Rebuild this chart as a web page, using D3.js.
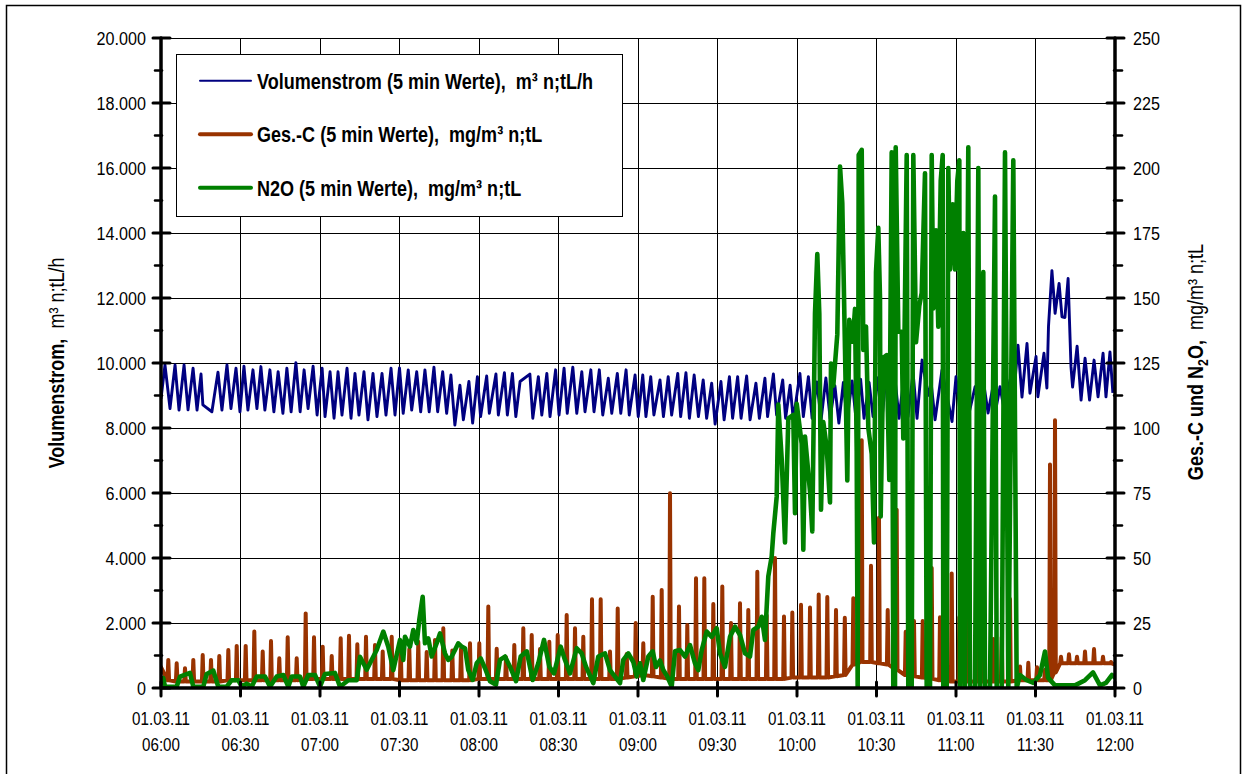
<!DOCTYPE html>
<html><head><meta charset="utf-8">
<script src="https://cdn.jsdelivr.net/npm/d3@7"></script>
<style>
body{margin:0;background:#fff;}
svg{display:block;}
text{font-family:"Liberation Sans",Arial,sans-serif;fill:#000;white-space:pre;}
</style></head><body>
<svg id="c" width="1246" height="774"></svg>
<script>
// ---- data: minutes after 01.03.11 06:00 ----
const volumenstrom = [[0,8900],[1.5,9940],[3.4,8600],[5.3,9940],[6.8,8550],[8.7,9940],[10.2,8560],[12.1,9840],[13.6,8550],[15.1,9660],[15.8,8710],[19.2,8500],[21.5,9720],[23.0,8550],[24.9,9940],[26.4,8600],[28.3,9840],[29.8,8500],[31.3,9900],[32.8,8550],[34.7,9790],[36.2,8600],[37.7,9890],[39.2,8550],[41.1,9790],[42.6,8500],[44.2,9730],[46.0,8450],[47.5,9840],[49.1,8500],[50.9,10010],[52.5,8500],[54.0,9790],[55.5,8600],[57.4,9900],[58.9,8400],[60.8,9840],[61.9,8350],[63.8,9730],[65.3,8300],[66.8,9730],[68.3,8400],[70.2,9840],[71.7,8300],[73.2,9680],[74.7,8400],[76.6,9730],[78.1,8250],[80.0,9680],[81.5,8350],[83.4,9680],[84.9,8400],[86.8,9840],[88.3,8400],[90.0,9850],[91.4,8450],[93.3,9785],[94.6,8550],[96.5,9730],[98.0,8500],[99.6,9785],[101.2,8500],[103.0,9870],[104.4,8500],[106.3,9730],[107.8,8450],[109.4,9630],[110.9,8090],[112.8,9320],[114.1,8250],[116.2,9430],[117.6,8150],[119.4,9580],[120.6,8350],[122.9,9600],[123.9,8450],[126.4,9660],[127.3,8400],[129.6,9700],[130.7,8400],[132.6,9680],[133.9,8350],[135.5,9430],[139.2,9660],[140.3,8300],[142.4,9580],[143.7,8400],[145.6,9680],[146.8,8350],[148.9,9790],[150.2,8400],[152.1,9840],[153.3,8450],[155.4,9870],[156.9,8450],[158.8,9730],[160.0,8500],[162.2,9790],[163.4,8500],[165.4,9790],[166.7,8400],[168.8,9530],[170.1,8450],[172.2,9680],[173.5,8450],[175.5,9790],[176.7,8400],[178.9,9630],[180.1,8350],[181.8,9630],[183.0,8350],[184.8,9580],[186.0,8400],[188.3,9480],[189.6,8350],[191.4,9580],[192.7,8400],[195.0,9680],[196.1,8350],[198.1,9700],[199.4,8300],[201.2,9630],[202.8,8350],[204.6,9480],[205.9,8300],[207.8,9380],[209.1,8120],[211.3,9430],[212.5,8250],[214.5,9580],[215.7,8300],[217.6,9580],[218.9,8300],[221.0,9600],[222.3,8250],[224.5,9380],[225.8,8300],[227.9,9530],[228.9,8350],[231.1,9660],[232.3,8400],[234.6,9480],[235.7,8300],[237.4,9320],[238.6,8250],[241.1,9680],[242.4,8350],[244.3,9580],[245.7,8300],[247.5,9420],[249.1,8250],[250.9,9540],[252.5,8300],[254.3,9300],[255.8,8150],[257.5,9400],[258.9,8250],[260.8,9450],[262.3,8250],[264.0,9500],[265.3,8300],[267.2,9400],[268.7,8350],[270.6,9550],[272.1,8300],[273.6,9600],[275.1,8350],[277.0,9500],[278.5,8300],[280.4,9600],[281.9,8350],[283.8,9700],[285.3,8300],[287.2,10090],[289.4,9000],[290.6,9400],[292.1,8250],[294.7,9780],[298.5,8200],[300.0,9580],[301.5,8500],[303.4,9400],[304.9,8450],[307.2,9270],[308.7,8500],[310.4,9400],[312.1,8460],[314.0,9300],[315.1,8600],[316.6,9270],[318.1,8600],[320.4,9480],[321.5,8700],[323.4,10550],[324.9,8950],[326.8,10600],[327.9,9070],[330.2,10200],[330.9,8960],[333.2,10300],[334.3,9230],[334.9,11120],[336.2,12840],[337.4,11530],[338.9,12450],[340.0,11420],[341.1,11400],[342.3,12600],[343.4,9880],[344.0,9260],[345.7,10520],[347.2,8860],[348.7,10150],[350.4,8860],[352.1,10090],[353.6,8960],[355.5,10300],[356.6,8960],[358.1,10340],[359.2,9080]];

// Ges.-C spikes: [minute, baseline before/after, spike peak]
const gesCStart = [0, 8];
const gesCSpikes = [[2.75,3,10.8],[5.92,2.5,9.5],[9.06,2.5,7.6],[12.19,2.5,10.8],[15.74,2.5,12.7],[18.87,2.5,10.8],[22.0,2.5,12.3],[25.4,3,14.6],[28.57,3,16.2],[31.96,3,16.2],[35.21,3,21.7],[38.38,3,14],[41.51,3,18.1],[44.64,3,11.4],[47.81,3,19.5],[51.21,3,11.4],[54.6,3.5,28.7],[57.74,3.5,19.5],[61.02,3.5,15.9],[64.42,3.5,12.3],[67.81,3.5,19.1],[70.94,3.5,20.1],[74.08,3.5,16.8],[77.36,3.5,19.7],[80.75,3.5,16.5],[83.66,3.5,14],[87.06,3.5,19.7],[90.45,3,15.9],[93.7,3,15],[97.09,3,17.8],[100.26,3,13.8],[103.4,3,18.5],[106.53,3,23],[109.92,3,14.4],[113.21,3,15],[116.6,3,17.2],[120.11,3.5,17.2],[123.51,3.5,31.3],[126.68,3.5,15.1],[130.19,3.5,11.8],[133.32,3.5,16.5],[136.72,3.5,23],[139.89,3.5,20.4],[143.02,3.5,15],[146.53,3.5,17.8],[149.7,3.5,20.4],[153.09,3.5,28.1],[156.23,3.5,23],[159.36,3.5,19.7],[162.64,3.5,34.1],[165.92,3.5,34.1],[169.43,3.5,14],[172.34,3.5,30.6],[175.74,4,13.1],[179.13,4.5,25],[182.0,5,17.2],[185.55,4.5,35.1],[188.94,4,37.7],[192.08,3.5,74.9],[195.47,3.5,31.3],[198.6,3.5,24.2],[201.89,3.5,42.2],[205.02,3.5,42.2],[208.42,3.5,32.3],[211.81,3.5,39],[215.09,3.5,25],[218.49,3.5,32.6],[221.62,3.5,30],[225.02,3.5,44.7],[228.57,3.5,27.9],[231.7,3.5,50],[235.09,3.5,27.5],[238.23,4,29],[241.51,4,32],[244.91,4,31],[248.19,4,36],[251.43,4,35],[254.72,4.5,30],[258.04,5,27],[261.25,9,34.5],[264.42,10,95.3],[267.92,10,47],[270.94,9.5,65.5],[274.23,9,30],[277.62,7,68.6],[281.02,5,21.6],[284.15,4.5,25.8],[287.43,4,25.8],[290.83,3.5,46.2],[293.96,3,27.2],[298.38,2.5,44],[301.25,2.5,27.2],[304.04,2.5,43.3],[307.55,2.5,17.4],[310.3,2.5,16.7],[314.08,2.5,18.8],[317.25,2.5,19.5],[320.38,2.5,34.2],[324.15,3,8.3],[327.28,3,9.7],[330.57,3,8],[333.58,3,7],[335.47,3,86],[337.36,6,103],[339.62,9.5,12],[342.64,9.5,13],[345.66,9.5,12],[348.68,9.5,14],[352.08,9.5,15],[355.47,9.5,12],[358.49,9.5,10]];
const gesCEnd = [360, 9];

const n2o = [[0.87,3.8],[1.51,0.5],[5.92,0.5],[7.17,4.4],[10.94,5.8],[12.19,0.5],[15.96,0.5],[17.25,5.4],[19.74,6.7],[21.62,0.5],[24.79,0.5],[26.68,3],[29.17,3],[30.45,0.5],[32.34,1.7],[34.23,0.5],[36.11,4.4],[39.25,4.4],[41.13,0.5],[43.66,4.4],[46.15,5],[48.04,0.5],[49.32,4.4],[52.45,4.4],[53.7,0.5],[55.58,5],[58.11,5],[60.0,0.5],[61.89,5.4],[65.66,5.8],[67.55,0.5],[70.68,3],[73.85,3],[75.09,12],[77.62,7],[79.51,10.9],[81.4,14.6],[83.89,21.7],[85.77,15.9],[87.66,6.9],[90.19,18.5],[91.43,10.8],[92.08,19.7],[93.96,15.9],[95.21,22.3],[96.49,17.2],[97.47,26.2],[98.75,35.1],[99.62,17.2],[100.87,19.1],[102.15,12.1],[104.04,17.2],[105.28,21.0],[107.17,13.3],[108.42,10.8],[109.7,12.1],[110.94,14.6],[112.19,17.2],[113.47,15.9],[114.72,15.3],[115.96,6.9],[117.62,3.1],[119.13,9.5],[120.64,11.4],[122.26,7.6],[124.15,2.6],[126.42,1.3],[127.92,10.8],[129.81,12.1],[131.7,8.2],[133.96,2.6],[135.74,12.1],[138.0,14.1],[140.26,3.1],[142.38,9.5],[144.53,18.5],[146.53,8.2],[148.3,5.6],[150.83,15.9],[152.45,10.8],[154.34,5.6],[156.87,15.3],[158.75,13.3],[160.38,8.2],[163.13,1.9],[165.02,12.1],[167.55,13.3],[169.43,6.9],[173.21,1.9],[174.45,10.8],[176.34,13.3],[178.23,10],[179.51,4.4],[180.75,9.5],[182.0,3.1],[183.89,12.1],[185.55,14.1],[186.79,8.1],[188.3,10.6],[189.55,6.9],[191.06,4.4],[192.72,0.6],[193.96,14.1],[195.85,14.6],[197.74,12.1],[199.62,16.5],[201.51,9.5],[202.75,6.9],[204.04,14.6],[205.92,21.7],[207.81,19.7],[209.7,23],[210.94,13.3],[212.83,8.1],[214.72,19.7],[216.6,23.6],[218.49,20.4],[220.38,13.3],[222.26,12.1],[223.51,22.3],[225.4,23.6],[226.68,27.4],[227.92,18.5],[229.17,42.9],[230.45,50.6],[231.06,59.5],[232.34,73.6],[232.94,109],[234.23,88],[235.47,56],[236.72,103.7],[238.6,105],[239.25,67.2],[239.89,109.3],[241.77,94],[242.38,53.2],[243.02,96.7],[244.91,75.6],[245.77,60.2],[246.79,144],[247.66,166.9],[248.42,144],[249.06,68.6],[249.92,102.3],[251.21,92.5],[252.45,71.4],[252.83,124.8],[253.7,116.3],[255.21,136],[256.23,200.6],[257.09,186.5],[258.11,130.4],[258.98,79.8],[259.74,141.6],[261.02,133.2],[261.89,145.8],[262.53,91.1],[262.9,0],[263.28,205],[264.42,207],[265.02,130],[266.04,139],[266.91,100],[268.19,90],[269.06,56],[269.81,160],[270.68,177],[271.32,150],[271.58,66],[272.57,127],[273.85,128],[274.83,80],[275.73,206],[276.34,0],[276.98,0],[277.25,208],[278.23,137],[279.51,137],[280.11,96],[281.4,205],[282.0,0],[283.28,0],[283.89,205],[284.91,133],[286.15,147],[287.06,152],[288.3,198],[288.94,0],[290.19,0],[290.83,205],[291.43,146],[292.45,176],[293.32,139],[294.23,195],[294.98,205],[295.21,0],[296.49,0],[297.09,200],[297.74,161],[298.75,186],[299.62,161],[300.49,195],[301.25,203],[301.51,0],[302.75,175],[303.28,0],[304.64,208],[305.28,0],[307.17,0],[308.42,200],[309.06,0],[310.3,160],[310.94,0],[312.83,0],[314.72,189],[315.36,0],[317.25,0],[318.49,206],[319.74,0],[321.62,203],[322.9,0],[324.15,5],[326.68,3],[329.19,2],[331.7,5],[333.58,14],[334.72,4],[337.36,1],[341.13,1],[344.9,1],[348.68,3],[351.7,6],[354.34,1],[356.6,2],[358.87,5],[360,4]];

const leftTickValues = [0,2000,4000,6000,8000,10000,12000,14000,16000,18000,20000];
const leftMinorValues = [1000,3000,5000,7000,9000,11000,13000,15000,17000,19000];
const rightTickValues = [0,25,50,75,100,125,150,175,200,225,250];
const rightMinorValues = [12.5,37.5,62.5,87.5,112.5,137.5,162.5,187.5,212.5,237.5];
const legendItems = [
  {label:"Volumenstrom (5 min Werte),  m³ n;tL/h", color:"#000080", width:2},
  {label:"Ges.-C (5 min Werte),  mg/m³ n;tL", color:"#993300", width:4},
  {label:"N2O (5 min Werte),  mg/m³ n;tL", color:"#008000", width:4}
];

// ---- chart ----
const svg = d3.select("#c");
const M = {l:161, r:1115, t:38, b:688};
const t0 = new Date(2011,2,1,6,0);
const toDate = m => new Date(t0.getTime() + m*60000);
const x = d3.scaleTime().domain([t0, toDate(360)]).range([M.l, M.r]);
const yL = d3.scaleLinear().domain([0,20000]).range([M.b, M.t]);
const yR = d3.scaleLinear().domain([0,250]).range([M.b, M.t]);
const de = d3.formatLocale({decimal:",", thousands:".", grouping:[3], currency:["","€"]});
const fmtL = de.format(",.0f");
const SX = 0.82;

svg.append("rect").attr("x",6.5).attr("y",5.5).attr("width",1234).attr("height",790)
  .attr("fill","none").attr("stroke","#000").attr("stroke-width",1.5);

// grid
const grid = svg.append("g").attr("stroke","#000").attr("stroke-width",1).attr("shape-rendering","crispEdges");
leftTickValues.filter(v=>v>0).forEach(v=>{
  grid.append("line").attr("x1",M.l).attr("x2",M.r).attr("y1",yL(v)).attr("y2",yL(v));
});
const xTicks = x.ticks(d3.timeMinute.every(30));
xTicks.filter(d=>+d>+t0 && +d<+toDate(360)).forEach(d=>{
  grid.append("line").attr("x1",x(d)).attr("x2",x(d)).attr("y1",M.t).attr("y2",M.b);
});

// clip
svg.append("clipPath").attr("id","clip").append("rect")
  .attr("x",M.l).attr("y",M.t-2).attr("width",M.r-M.l).attr("height",M.b-M.t+2);
const plot = svg.append("g").attr("clip-path","url(#clip)");

const lineL = d3.line().x(d=>x(toDate(d[0]))).y(d=>yL(d[1]));
const lineR = d3.line().x(d=>x(toDate(d[0]))).y(d=>yR(d[1]));

plot.append("path").datum(volumenstrom).attr("d",lineL)
  .attr("fill","none").attr("stroke","#000080").attr("stroke-width",2.9).attr("stroke-linejoin","round");

const gesCPoints = [gesCStart];
gesCSpikes.forEach(s=>{ gesCPoints.push([s[0]-0.3,s[1]],[s[0],s[2]],[s[0]+0.3,s[1]]); });
gesCPoints.push(gesCEnd);
plot.append("path").datum(gesCPoints).attr("d",lineR)
  .attr("fill","none").attr("stroke","#993300").attr("stroke-width",4).attr("stroke-linejoin","round").attr("stroke-linecap","round");

plot.append("path").datum(n2o).attr("d",lineR)
  .attr("fill","none").attr("stroke","#008000").attr("stroke-width",4.6).attr("stroke-linejoin","round").attr("stroke-linecap","round");

// axes
const ax = svg.append("g").attr("stroke","#000").attr("stroke-linecap","round");
ax.append("line").attr("x1",M.l).attr("x2",M.l).attr("y1",M.t).attr("y2",M.b).attr("stroke-width",3.5);
ax.append("line").attr("x1",M.r).attr("x2",M.r).attr("y1",M.t).attr("y2",M.b).attr("stroke-width",3.5);
ax.append("line").attr("x1",M.l).attr("x2",M.r).attr("y1",M.b).attr("y2",M.b).attr("stroke-width",3.5);
leftTickValues.forEach(v=>ax.append("line").attr("x1",M.l-8).attr("x2",M.l+9).attr("y1",yL(v)).attr("y2",yL(v)).attr("stroke-width",3));
leftMinorValues.forEach(v=>ax.append("line").attr("x1",M.l-6).attr("x2",M.l+1).attr("y1",yL(v)).attr("y2",yL(v)).attr("stroke-width",2.5));
rightTickValues.forEach(v=>ax.append("line").attr("x1",M.r-8).attr("x2",M.r+9).attr("y1",yR(v)).attr("y2",yR(v)).attr("stroke-width",3));
rightMinorValues.forEach(v=>ax.append("line").attr("x1",M.r-1).attr("x2",M.r+7).attr("y1",yR(v)).attr("y2",yR(v)).attr("stroke-width",2.5));
xTicks.forEach(d=>ax.append("line").attr("x1",x(d)).attr("x2",x(d)).attr("y1",M.b-6).attr("y2",M.b+8).attr("stroke-width",3));

function txt(parent, px, py, str, size, anchor, sx, weight, rot){
  const t = parent.append("text")
    .attr("transform",`translate(${px},${py})${rot?` rotate(${rot})`:""} scale(${sx},1)`)
    .attr("font-size",size).attr("text-anchor",anchor||"start");
  if(weight) t.attr("font-weight",weight);
  if(str!==null) t.text(str);
  return t;
}
const labels = svg.append("g");
leftTickValues.forEach(v=>txt(labels, M.l-15, yL(v)+6.5, fmtL(v), 19, "end", 0.85));
rightTickValues.forEach(v=>txt(labels, M.r+18, yR(v)+6.5, String(v), 19, "start", 0.85));
const fD = d3.timeFormat("%d.%m.%y"), fT = d3.timeFormat("%H:%M");
xTicks.forEach(d=>{
  txt(labels, x(d), 725, fD(d), 18.5, "middle", SX);
  txt(labels, x(d), 751, fT(d), 18.5, "middle", SX);
});

// axis titles
const lt = txt(labels, 64, 363, null, 22, "middle", SX, null, -90);
lt.append("tspan").attr("font-weight","bold").text("Volumenstrom,");
lt.append("tspan").text("  m³ n;tL/h");
const rt = txt(labels, 1203, 362, null, 22, "middle", SX, null, -90);
rt.append("tspan").attr("font-weight","bold").text("Ges.-C und N");
rt.append("tspan").attr("font-weight","bold").attr("font-size",15).attr("dy",5).text("2");
rt.append("tspan").attr("font-weight","bold").attr("dy",-5).text("O,");
rt.append("tspan").text("  mg/m³ n;tL");

// legend
const lg = svg.append("g");
lg.append("rect").attr("x",176.5).attr("y",54.5).attr("width",446).attr("height",162)
  .attr("fill","#fff").attr("stroke","#000").attr("stroke-width",1);
const rowY = d3.scalePoint().domain(legendItems.map(d=>d.label)).range([80.7,187.7]);
legendItems.forEach(d=>{
  lg.append("line").attr("x1",200).attr("x2",251).attr("y1",rowY(d.label)).attr("y2",rowY(d.label))
    .attr("stroke",d.color).attr("stroke-width",d.width).attr("stroke-linecap","round");
  txt(lg, 257, rowY(d.label)+8, d.label, 22, "start", 0.82, "bold");
});
</script>
</body></html>
